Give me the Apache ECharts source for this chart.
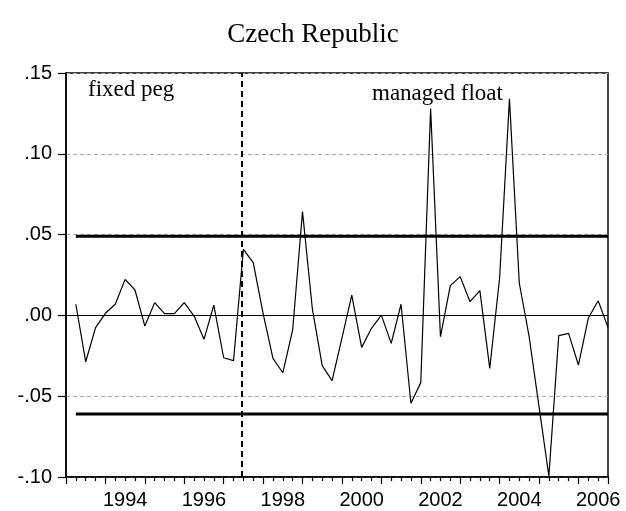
<!DOCTYPE html>
<html>
<head>
<meta charset="utf-8">
<script src="https://cdn.jsdelivr.net/npm/echarts@6/dist/echarts.min.js"></script>
<style>html,body{margin:0;padding:0;background:#fff}#c{width:626px;height:511px}</style>
</head>
<body>
<div id="c"></div>
<script>
// quarterly observations 1993Q2 .. 2006Q4
const startYear = 1993.25;
const step = 0.25;
const values = [
  0.0069, -0.0287, -0.0076, 0.0013, 0.0069, 0.0223, 0.0157, -0.0066,
  0.0079, 0.0011, 0.0011, 0.0079, -0.0004, -0.0148, 0.0064, -0.0262,
  -0.0280, 0.0409, 0.0326, 0.0013, -0.0266, -0.0355, -0.0090, 0.0642,
  0.0040, -0.0311, -0.0404, -0.0140, 0.0126, -0.0198, -0.0080, 0.0002,
  -0.0173, 0.0069, -0.0544, -0.0416, 0.1280, -0.0132, 0.0184, 0.0240,
  0.0085, 0.0153, -0.0328, 0.0230, 0.1340, 0.0199, -0.0132, -0.0565,
  -0.0994, -0.0125, -0.0111, -0.0307, -0.0018, 0.0091, -0.0074
];
const upperBand = 0.049;
const lowerBand = -0.061;
const regimeBreak = 1997.45;
const yTicks = [-0.10, -0.05, 0.00, 0.05, 0.10, 0.15];
const xLabelYears = [1994, 1996, 1998, 2000, 2002, 2004, 2006];
const titleText = 'Czech Republic';
const notes = ['fixed peg', 'managed float'];

const xs = values.map((v, i) => startYear + i * step);
const lineData = values.map((v, i) => [xs[i], v]);
const xFirst = xs[0], xLast = xs[xs.length - 1];

function fmtY(v) {
  const n = Math.round(v * 100);
  const a = Math.abs(n);
  return (n < 0 ? '-' : '') + '.' + (a < 10 ? '0' + a : String(a));
}

const serif = '"Liberation Serif","Times New Roman",serif';
const sans = '"Liberation Sans",Arial,sans-serif';

const chart = echarts.init(document.getElementById('c'), null, {renderer: 'canvas'});
chart.setOption({
  animation: false,
  backgroundColor: '#fff',
  title: {
    text: titleText,
    left: 'center',
    top: 16,
    textStyle: {fontFamily: serif, fontSize: 27, fontWeight: 'normal', color: '#000'}
  },
  grid: {
    left: 66, top: 73, width: 542, height: 404,
    show: true, borderColor: '#000', borderWidth: 1.5, backgroundColor: 'transparent'
  },
  xAxis: [
    {
      type: 'value', min: 1993, max: 2006.75, interval: 1,
      position: 'bottom',
      axisLine: {show: true, onZero: false, lineStyle: {color: '#000', width: 1.5}},
      axisTick: {show: true, inside: false, length: 7, lineStyle: {color: '#000', width: 1.2}},
      minorTick: {show: true, splitNumber: 4, length: 4, lineStyle: {color: '#000', width: 1.2}},
      axisLabel: {show: false},
      splitLine: {show: false}
    },
    {
      type: 'value', min: 1993, max: 2006.75, interval: 0.5,
      position: 'bottom',
      axisLine: {show: false, onZero: false},
      axisTick: {show: false},
      axisLabel: {
        show: true, margin: 13, fontFamily: sans, fontSize: 20, color: '#000',
        showMinLabel: true, showMaxLabel: true,
        formatter: function (v) {
          const y = Math.floor(v + 1e-9);
          if (Math.abs(v - y - 0.5) < 1e-6 && xLabelYears.indexOf(y) >= 0) return String(y);
          return '';
        }
      },
      splitLine: {show: false}
    }
  ],
  yAxis: {
    type: 'value', min: yTicks[0], max: yTicks[yTicks.length - 1], interval: 0.05,
    axisLine: {show: true, onZero: false, lineStyle: {color: '#000', width: 1.5}},
    axisTick: {show: true, inside: false, length: 8, lineStyle: {color: '#000', width: 1.2}},
    axisLabel: {margin: 14, fontFamily: sans, fontSize: 20, color: '#000', formatter: fmtY},
    splitLine: {show: true, lineStyle: {color: '#aaa', type: [4, 3], width: 1}}
  },
  graphic: [
    {type: 'text', left: 88, top: 78, style: {text: notes[0], font: '23px ' + serif, fill: '#000'}},
    {type: 'text', left: 372, top: 82, style: {text: notes[1], font: '23px ' + serif, fill: '#000'}}
  ],
  series: [
    {
      type: 'line', xAxisIndex: 0, data: lineData, showSymbol: false, symbol: 'none',
      lineStyle: {color: '#000', width: 1.2}, z: 5,
      markLine: {
        silent: true, symbol: 'none', label: {show: false},
        data: [
          {yAxis: 0, lineStyle: {color: '#000', width: 1, type: 'solid'}},
          {xAxis: regimeBreak, lineStyle: {color: '#000', width: 2, type: [6, 4]}}
        ]
      }
    },
    {
      type: 'line', xAxisIndex: 0, data: [[xFirst, upperBand], [xLast, upperBand]], symbol: 'none',
      lineStyle: {color: '#000', width: 3}, z: 4
    },
    {
      type: 'line', xAxisIndex: 0, data: [[xFirst, lowerBand], [xLast, lowerBand]], symbol: 'none',
      lineStyle: {color: '#000', width: 3}, z: 4
    }
  ]
});
</script>
</body>
</html>
